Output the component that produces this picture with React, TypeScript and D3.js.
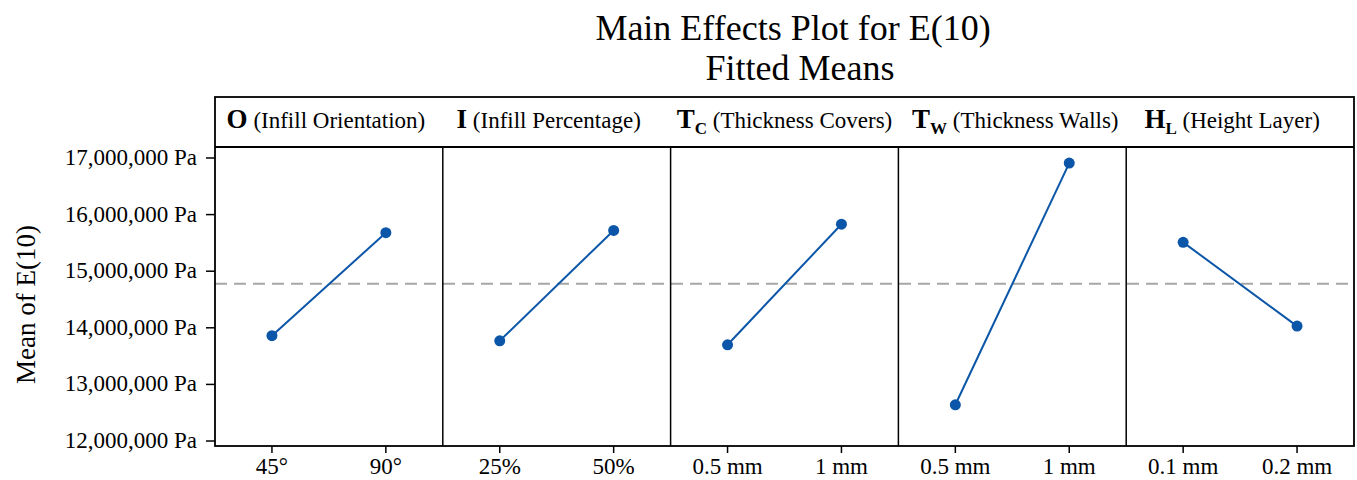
import React from "react";
import * as d3 from "d3";

const factorKeys = ["O", "I", "T", "T", "H"];
const factorSubs = ["", "", "C", "W", "L"];
const factorNames = ["(Infill Orientation)", "(Infill Percentage)", "(Thickness Covers)", "(Thickness Walls)", "(Height Layer)"];
const levelLabels = [["45°", "90°"], ["25%", "50%"], ["0.5 mm", "1 mm"], ["0.5 mm", "1 mm"], ["0.1 mm", "0.2 mm"]];
const levelMeans = [
  [13860000, 15680000],
  [13770000, 15720000],
  [13700000, 15830000],
  [12640000, 16910000],
  [15510000, 14030000],
];
const grandMean = 14780000;
const yTicks = [12000000, 13000000, 14000000, 15000000, 16000000, 17000000];

const W = 1357, H = 480;
const left = 215, right = 1354, headerTop = 97, plotTop = 147, plotBottom = 446;
const font = "'Liberation Serif', 'Times New Roman', serif";
const blue = "#0b56a8";

export default function App() {
  const y = d3.scaleLinear().domain([11912000, 17194000]).range([plotBottom, plotTop]);
  const panelX = d3.scaleBand<number>().domain(d3.range(5)).range([left, right]).paddingInner(0).paddingOuter(0);
  const pw = panelX.bandwidth();
  const fmt = d3.format(",");
  const line = d3.line<[number, number]>().x(d => d[0]).y(d => d[1]);
  const headerShift = [-3, -8, 0, 3, -8];

  return (
    <svg width={W} height={H} style={{ position: "absolute", left: 0, top: 0, background: "#fff" }} fontFamily={font}>
      <text x={793} y={40} textAnchor="middle" fontSize={36}>Main Effects Plot for E(10)</text>
      <text x={800} y={80} textAnchor="middle" fontSize={36}>Fitted Means</text>
      <text transform={`translate(35,${(plotTop + plotBottom) / 2 + 8}) rotate(-90)`} textAnchor="middle" fontSize={27}>Mean of E(10)</text>

      {/* mean line */}
      <line x1={left} x2={right} y1={y(grandMean)} y2={y(grandMean)} stroke="#a6a6a6" strokeWidth={2} strokeDasharray="12,7" />

      {levelMeans.map((vals, i) => {
        const x0 = panelX(i)!;
        const xs = d3.scalePoint<number>().domain([0, 1]).range([x0 + pw * 0.25, x0 + pw * 0.75]);
        const pts: [number, number][] = vals.map((v, j) => [xs(j)!, y(v)]);
        return (
          <g key={i}>
            <path d={line(pts)!} fill="none" stroke={blue} strokeWidth={2} />
            {pts.map((p, j) => <circle key={j} cx={p[0]} cy={p[1]} r={5.5} fill={blue} />)}
            {levelLabels[i].map((lab, j) => (
              <g key={j}>
                <line x1={xs(j)!} x2={xs(j)!} y1={plotBottom} y2={plotBottom + 7} stroke="#000" strokeWidth={1.5} />
                <text x={xs(j)!} y={474} textAnchor="middle" fontSize={23}>{lab}</text>
              </g>
            ))}
            <text x={x0 + pw / 2 + headerShift[i]} y={128} fontSize={23} textAnchor="middle">
              <tspan fontWeight="bold" fontSize={27}>{factorKeys[i]}</tspan>
              {factorSubs[i] && <tspan fontWeight="bold" fontSize={17} dy={6}>{factorSubs[i]}</tspan>}
              <tspan dy={factorSubs[i] ? -6 : 0}>{" " + factorNames[i]}</tspan>
            </text>
            {i > 0 && <line x1={x0} x2={x0} y1={plotTop} y2={plotBottom} stroke="#000" strokeWidth={1.5} />}
          </g>
        );
      })}

      {/* frame */}
      <rect x={left} y={headerTop} width={right - left} height={plotBottom - headerTop} fill="none" stroke="#000" strokeWidth={1.8} />
      <line x1={left} x2={right} y1={plotTop} y2={plotTop} stroke="#000" strokeWidth={1.8} />

      {/* y axis */}
      {yTicks.map(t => (
        <g key={t}>
          <line x1={left - 9} x2={left} y1={y(t)} y2={y(t)} stroke="#000" strokeWidth={1.5} />
          <text x={left - 18} y={y(t) + 7} textAnchor="end" fontSize={23}>{fmt(t) + " Pa"}</text>
        </g>
      ))}
    </svg>
  );
}
